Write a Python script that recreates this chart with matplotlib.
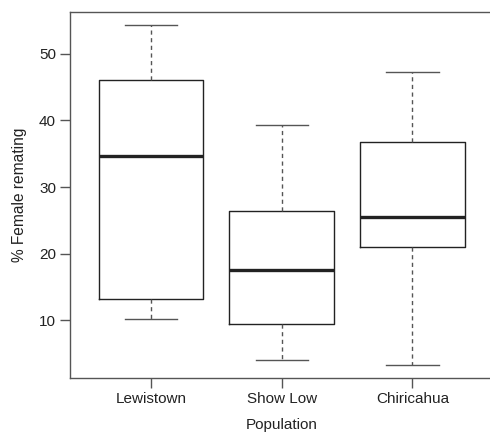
import matplotlib.pyplot as plt

plt.rcParams['font.family'] = ['Liberation Sans', 'DejaVu Sans']

populations = ['Lewistown', 'Show Low', 'Chiricahua']
whisker_low = [10.15, 3.98, 3.23]
q1 = [13.1, 9.35, 21.0]
medians = [34.7, 17.6, 25.5]
q3 = [46.1, 26.35, 36.7]
whisker_high = [54.3, 39.37, 47.25]

stats = []
for i in range(len(populations)):
    stats.append({
        'label': populations[i],
        'whislo': whisker_low[i],
        'q1': q1[i],
        'med': medians[i],
        'q3': q3[i],
        'whishi': whisker_high[i],
        'fliers': [],
    })

fig = plt.figure(figsize=(4.9, 4.34), dpi=100)
ax = fig.add_axes([70 / 490, 1 - 378 / 434, 423.4 / 490, 366 / 434])

ax.bxp(stats, positions=[1, 2, 3], widths=0.8, showfliers=False,
       boxprops=dict(color='#222222', linewidth=1.0),
       medianprops=dict(color='#222222', linewidth=2.4, solid_capstyle='butt'),
       whiskerprops=dict(color='#555555', linewidth=1.0, linestyle=(0, (3, 2.5))),
       capprops=dict(color='#555555', linewidth=1.0),
       capwidths=0.4)

ax.set_xlim(0.38, 3.62)
ax.set_ylim(1.3, 56.3)
ax.set_yticks([10, 20, 30, 40, 50])
ax.set_xticks([1, 2, 3])
ax.set_xticklabels(populations)

for s in ax.spines.values():
    s.set_color('#555555')
    s.set_linewidth(1.0)
ax.spines['right'].set_visible(False)

ax.tick_params(axis='both', length=7, width=1.0, color='#555555',
               labelsize=11, labelcolor='#222222', pad=3)
ax.set_xlabel('Population', fontsize=11, color='#222222', labelpad=9)
ax.set_ylabel('% Female remating', fontsize=11.2, color='#222222', labelpad=9)

fig.savefig('out.png', dpi=100)
